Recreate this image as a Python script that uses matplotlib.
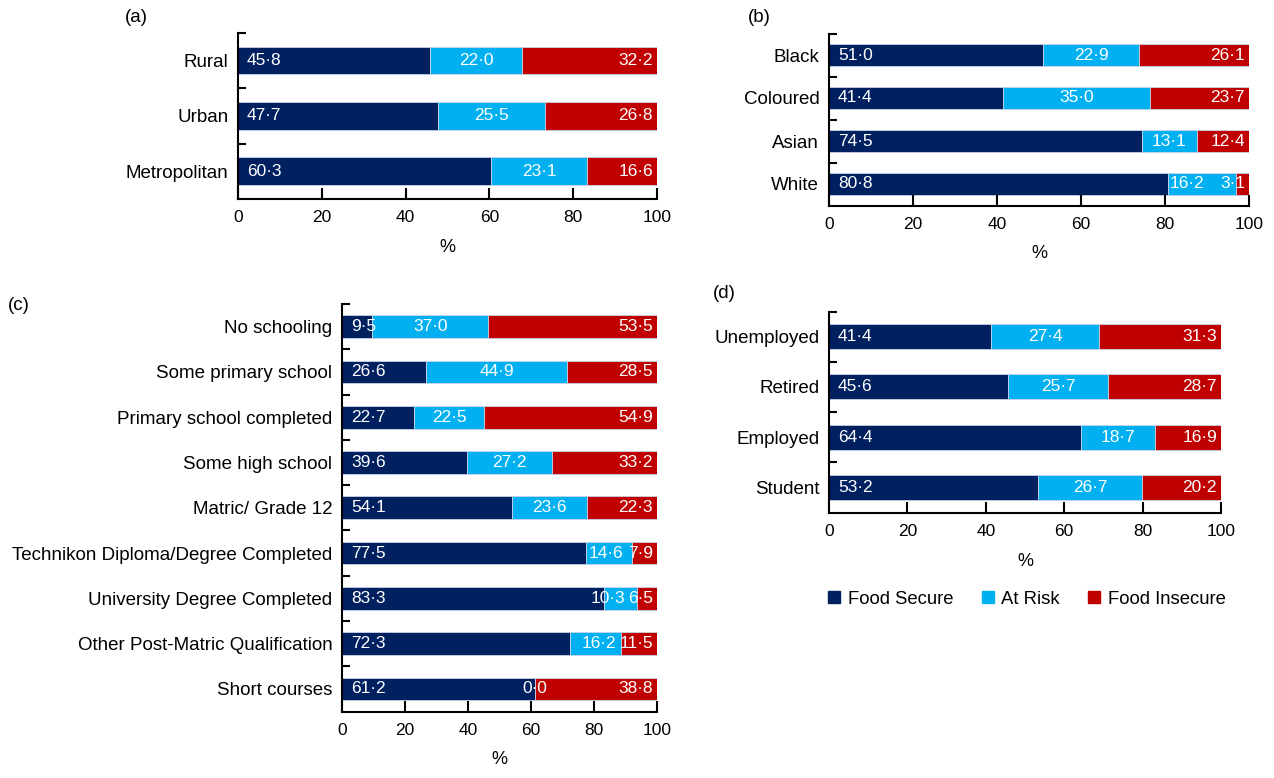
import numpy as np
import matplotlib
matplotlib.use("Agg")
import matplotlib.pyplot as plt
from matplotlib.patches import Patch

plt.rcParams['font.family'] = ['Liberation Sans', 'DejaVu Sans']
plt.rcParams['font.size'] = 13

# === dane ===
area_labels = ['Rural', 'Urban', 'Metropolitan']
area_secure = [45.8, 47.7, 60.3]
area_risk = [22.0, 25.5, 23.1]
area_insecure = [32.2, 26.8, 16.6]

race_labels = ['Black', 'Coloured', 'Asian', 'White']
race_secure = [51.0, 41.4, 74.5, 80.8]
race_risk = [22.9, 35.0, 13.1, 16.2]
race_insecure = [26.1, 23.7, 12.4, 3.1]

edu_labels = ['No schooling', 'Some primary school', 'Primary school completed',
              'Some high school', 'Matric/ Grade 12', 'Technikon Diploma/Degree Completed',
              'University Degree Completed', 'Other Post-Matric Qualification', 'Short courses']
edu_secure = [9.5, 26.6, 22.7, 39.6, 54.1, 77.5, 83.3, 72.3, 61.2]
edu_risk = [37.0, 44.9, 22.5, 27.2, 23.6, 14.6, 10.3, 16.2, 0.0]
edu_insecure = [53.5, 28.5, 54.9, 33.2, 22.3, 7.9, 6.5, 11.5, 38.8]

emp_labels = ['Unemployed', 'Retired', 'Employed', 'Student']
emp_secure = [41.4, 45.6, 64.4, 53.2]
emp_risk = [27.4, 25.7, 18.7, 26.7]
emp_insecure = [31.3, 28.7, 16.9, 20.2]

series_names = ['Food Secure', 'At Risk', 'Food Insecure']
colors = ['#002060', '#00B0F0', '#C00000']

# przesuniecia etykiet "At Risk" (w pikselach), recznie jak w oryginale
risk_nudge = {'White': -15, 'Technikon Diploma/Degree Completed': -3,
              'University Degree Completed': -13, 'Other Post-Matric Qualification': 4}

LBL = 12.5


def fmt(v):
    return f"{v:.1f}".replace('.', '\u00b7')


def stacked_panel(ax, labels, secure, risk, insecure, tag, tag_xy):
    y = np.arange(len(labels))
    left = np.zeros(len(labels))
    for vals, c in zip([secure, risk, insecure], colors):
        ax.barh(y, vals, left=left, height=0.5, color=c,
                edgecolor='#c9d3e6', linewidth=0.6)
        left = left + np.array(vals)

    for i, lab in enumerate(labels):
        ax.annotate(fmt(secure[i]), (0, y[i]), xytext=(9, 0), textcoords='offset pixels',
                    ha='left', va='center', color='white', fontsize=LBL)
        ax.annotate(fmt(risk[i]), (secure[i] + risk[i] / 2, y[i]),
                    xytext=(risk_nudge.get(lab, 0), 0), textcoords='offset pixels',
                    ha='center', va='center', color='white', fontsize=LBL)
        ax.annotate(fmt(insecure[i]), (100, y[i]), xytext=(-4, 0), textcoords='offset pixels',
                    ha='right', va='center', color='white', fontsize=LBL)

    ax.set_xlim(0, 100)
    ax.set_ylim(len(labels) - 0.5, -0.5)
    ax.set_yticks(y)
    ax.set_yticklabels(labels)
    ax.set_yticks(np.arange(-0.5, len(labels) - 0.5, 1), minor=True)
    ax.tick_params(axis='y', which='major', length=0, pad=7, labelsize=13.5)
    ax.tick_params(axis='y', which='minor', length=6, width=1.5, direction='in')
    ax.set_xticks([0, 20, 40, 60, 80, 100])
    ax.tick_params(axis='x', direction='in', length=8, width=1.5, pad=8, labelsize=12.5)
    for s in ['top', 'right']:
        ax.spines[s].set_visible(False)
    for s in ['left', 'bottom']:
        ax.spines[s].set_linewidth(1.5)
    ax.set_xlabel('%', fontsize=13, labelpad=10)
    ax.figure.text(tag_xy[0], tag_xy[1], tag, fontsize=13.5, ha='left', va='center')


fig = plt.figure(figsize=(12.74, 7.78), dpi=100)

W, H = 1274, 778


def px_axes(x0, x1, y0, y1):
    return fig.add_axes([x0 / W, 1 - y1 / H, (x1 - x0) / W, (y1 - y0) / H])


ax_a = px_axes(238, 657, 33, 199)
ax_b = px_axes(829, 1249, 33.5, 205.5)
ax_c = px_axes(342, 657, 304, 711.5)
ax_d = px_axes(829, 1221, 311.5, 512.5)

stacked_panel(ax_a, area_labels, area_secure, area_risk, area_insecure, '(a)', (125 / W, 1 - 18 / H))
stacked_panel(ax_b, race_labels, race_secure, race_risk, race_insecure, '(b)', (748 / W, 1 - 18 / H))
stacked_panel(ax_c, edu_labels, edu_secure, edu_risk, edu_insecure, '(c)', (8 / W, 1 - 305 / H))
stacked_panel(ax_d, emp_labels, emp_secure, emp_risk, emp_insecure, '(d)', (713 / W, 1 - 293 / H))

handles = [Patch(facecolor=c, edgecolor=c) for c in colors]
fig.legend(handles, series_names, loc='center', bbox_to_anchor=(1027 / W, 1 - 599 / H),
           ncol=3, frameon=False, fontsize=13.3, handlelength=0.65, handleheight=0.65,
           handletextpad=0.4, columnspacing=1.55)

fig.savefig('out.png', dpi=100)
